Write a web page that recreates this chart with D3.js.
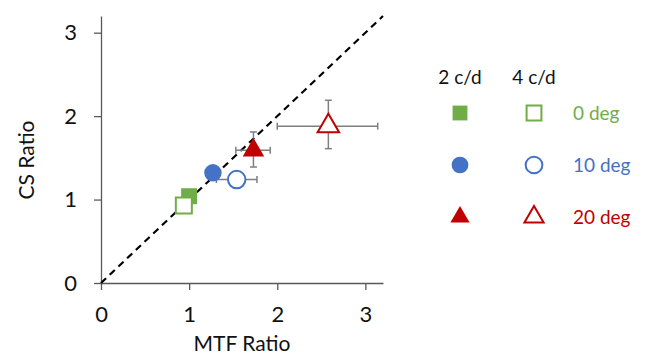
<!DOCTYPE html>
<html lang="en">
<head>
  <script src="https://d3js.org/d3.v7.min.js"></script>
  <style>
    body { margin: 0; background: #fff; }
    text { font-family: Lato, "Open Sans", sans-serif; }
  </style>
</head>
<body>
  <script>
    // Data
    const groups = ["0 deg", "10 deg", "20 deg"];
    const freqs = ["2 c/d", "4 c/d"];
    const groupColors = ["#70AD47", "#4472C4", "#C00000"];
    const groupShapes = [d3.symbolSquare, d3.symbolCircle, d3.symbolTriangle];

    // 2 c/d (filled)
    const mtf2 = [1.00, 1.27, 1.73];
    const cs2 = [1.04, 1.32, 1.59];
    const mtf2Lo = [1.00, 1.19, 1.53];
    const mtf2Hi = [1.00, 1.27, 1.92];
    const cs2Lo = [1.04, 1.32, 1.39];
    const cs2Hi = [1.04, 1.32, 1.81];

    // 4 c/d (open)
    const mtf4 = [0.94, 1.54, 2.58];
    const cs4 = [0.93, 1.24, 1.88];
    const mtf4Lo = [0.94, 1.31, 2.00];
    const mtf4Hi = [0.94, 1.77, 3.14];
    const cs4Lo = [0.93, 1.24, 1.61];
    const cs4Hi = [0.93, 1.24, 2.19];

    const xTicks = [0, 1, 2, 3];
    const yTicks = [0, 1, 2, 3];

    const width = 649, height = 357;
    const svg = d3.select("body").append("svg")
      .attr("width", width)
      .attr("height", height);

    const x = d3.scaleLinear().domain([0, 3.2]).range([101, 383]);
    const y = d3.scaleLinear().domain([0, 3.2]).range([283, 16]);

    const axisColor = "#595959";

    // x axis
    const xAxis = svg.append("g")
      .attr("transform", "translate(0," + y(0) + ")")
      .call(d3.axisBottom(x).tickValues(xTicks).tickFormat(d3.format("d"))
        .tickSize(7).tickPadding(16).tickSizeOuter(0));
    // y axis
    const yAxis = svg.append("g")
      .attr("transform", "translate(" + x(0) + ",0)")
      .call(d3.axisLeft(y).tickValues(yTicks).tickFormat(d3.format("d"))
        .tickSize(7).tickPadding(17).tickSizeOuter(0));

    [xAxis, yAxis].forEach(function(g) {
      g.select(".domain").attr("stroke", axisColor).attr("stroke-width", 1.3);
      g.selectAll(".tick line").attr("stroke", axisColor).attr("stroke-width", 1.3);
      g.selectAll(".tick text").attr("fill", "#111").style("font-size", "22px")
        .style("font-family", "Lato, 'Open Sans', sans-serif");
    });

    // axis titles
    svg.append("text")
      .attr("x", (x(0) + x(3.2)) / 2)
      .attr("y", 351)
      .attr("text-anchor", "middle")
      .attr("fill", "#111")
      .style("font-size", "21px")
      .text("MTF Ratio");

    svg.append("text")
      .attr("transform", "translate(34,160) rotate(-90)")
      .attr("text-anchor", "middle")
      .attr("fill", "#111")
      .style("font-size", "21px")
      .text("CS Ratio");

    // identity line
    svg.append("line")
      .attr("x1", x(0)).attr("y1", y(0))
      .attr("x2", x(3.2)).attr("y2", y(3.2))
      .attr("stroke", "#000")
      .attr("stroke-width", 2.2)
      .attr("stroke-dasharray", "7,5");

    // error bars
    const errColor = "#7f7f7f";
    const cap = 3.5;
    function errorBars(mx, my, xlo, xhi, ylo, yhi) {
      for (let i = 0; i < mx.length; i++) {
        if (xhi[i] > xlo[i]) {
          svg.append("line").attr("x1", x(xlo[i])).attr("x2", x(xhi[i]))
            .attr("y1", y(my[i])).attr("y2", y(my[i]))
            .attr("stroke", errColor).attr("stroke-width", 1.5);
          [xlo[i], xhi[i]].forEach(function(v) {
            svg.append("line").attr("x1", x(v)).attr("x2", x(v))
              .attr("y1", y(my[i]) - cap).attr("y2", y(my[i]) + cap)
              .attr("stroke", errColor).attr("stroke-width", 1.5);
          });
        }
        if (yhi[i] > ylo[i]) {
          svg.append("line").attr("x1", x(mx[i])).attr("x2", x(mx[i]))
            .attr("y1", y(ylo[i])).attr("y2", y(yhi[i]))
            .attr("stroke", errColor).attr("stroke-width", 1.5);
          [ylo[i], yhi[i]].forEach(function(v) {
            svg.append("line").attr("x1", x(mx[i]) - cap).attr("x2", x(mx[i]) + cap)
              .attr("y1", y(v)).attr("y2", y(v))
              .attr("stroke", errColor).attr("stroke-width", 1.5);
          });
        }
      }
    }
    errorBars(mtf2, cs2, mtf2Lo, mtf2Hi, cs2Lo, cs2Hi);
    errorBars(mtf4, cs4, mtf4Lo, mtf4Hi, cs4Lo, cs4Hi);

    const sizes = [256, 240, 200];
    function marker(g, shape, size, color, filled, tx, ty) {
      g.append("path")
        .attr("d", d3.symbol().type(shape).size(size)())
        .attr("transform", "translate(" + tx + "," + ty + ")")
        .attr("fill", filled ? color : "#fff")
        .attr("stroke", color)
        .attr("stroke-width", filled ? 0 : 2);
    }

    // markers: filled (2 c/d) then open (4 c/d)
    const order = [[0, true], [0, false], [2, false], [2, true], [1, false], [1, true]];
    order.forEach(function(o) {
      const i = o[0], filled = o[1];
      const mx = filled ? mtf2[i] : mtf4[i];
      const my = filled ? cs2[i] : cs4[i];
      marker(svg, groupShapes[i], sizes[i], groupColors[i], filled, x(mx), y(my));
    });

    // legend
    const legX = [460, 534];
    const legRowY = [113, 165, 217];
    freqs.forEach(function(f, j) {
      svg.append("text")
        .attr("x", legX[j]).attr("y", 84)
        .attr("text-anchor", "middle")
        .attr("fill", "#111")
        .style("font-size", "19px")
        .text(f);
    });
    groups.forEach(function(gname, i) {
      marker(svg, groupShapes[i], i === 2 ? 160 : 220, groupColors[i], true, legX[0], legRowY[i]);
      marker(svg, groupShapes[i], i === 2 ? 160 : 220, groupColors[i], false, legX[1], legRowY[i]);
      svg.append("text")
        .attr("x", 573).attr("y", legRowY[i] + 7)
        .attr("fill", groupColors[i])
        .style("font-size", "19px")
        .text(gname);
    });
  </script>
</body>
</html>
